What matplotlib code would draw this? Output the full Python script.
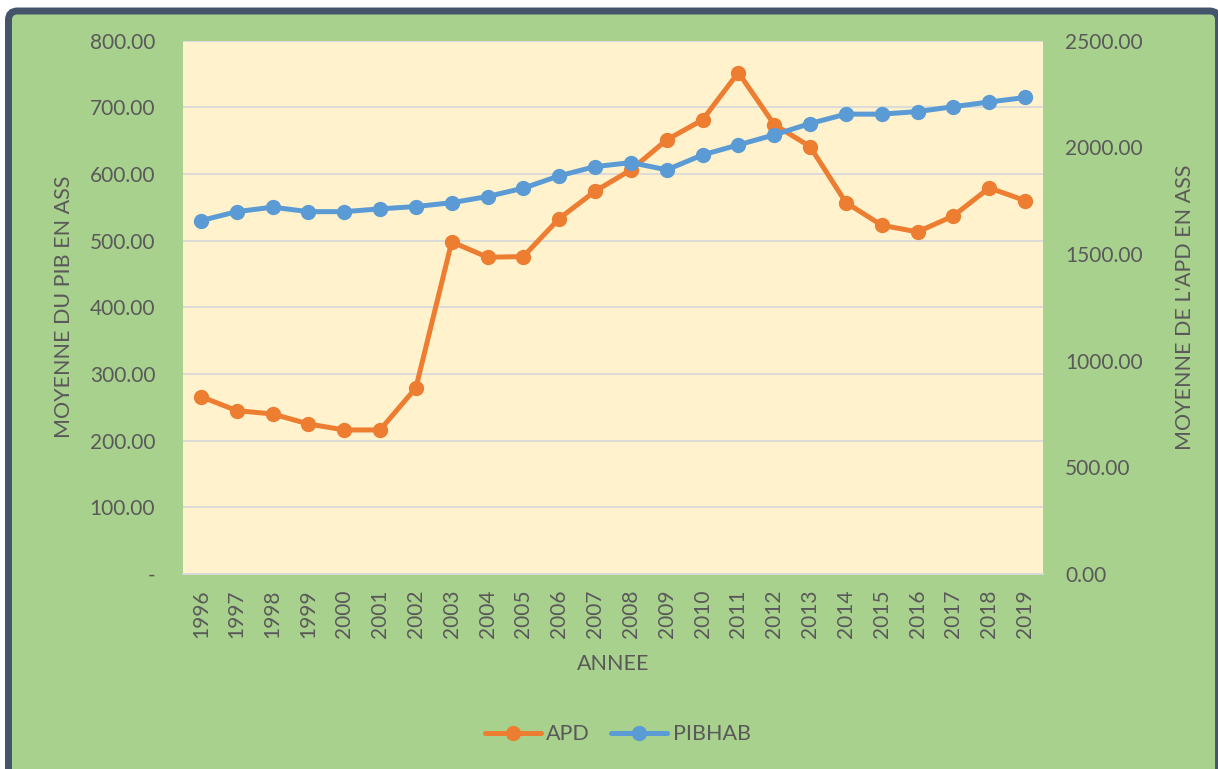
import matplotlib.pyplot as plt
from matplotlib.patches import FancyBboxPatch
from matplotlib.ticker import FuncFormatter

# Data
years = [str(y) for y in range(1996, 2020)]
apd = [266, 245, 240, 225, 216, 216, 279, 498, 475, 476, 533, 574,
       606, 651, 681, 752, 674, 641, 557, 523, 513, 537, 579, 560]
pibhab = [1656, 1698, 1719, 1698, 1698, 1711, 1722, 1740, 1769, 1808, 1866, 1909,
          1928, 1894, 1964, 2011, 2058, 2111, 2155, 2155, 2167, 2190, 2212, 2233]

ORANGE = "#ED7D31"
BLUE = "#5B9BD5"
TEXT = "#595959"
GRID = "#D9D9D9"
GREEN = "#A9D18E"
PLOT_BG = "#FFF2CC"
BORDER = "#44546A"

plt.rcParams['font.family'] = ['Lato', 'DejaVu Sans']

fig = plt.figure(figsize=(12.18, 7.69), dpi=100, facecolor="white")

# Green card with dark rounded border (coordinates in pixels)
card = FancyBboxPatch((8.5, -20), 1210, 768.5 - 10.5 + 20,
                      boxstyle="round,pad=0,rounding_size=9",
                      facecolor=GREEN, edgecolor=BORDER, linewidth=5,
                      transform=None, zorder=-5)
fig.patches.append(card)

ax = fig.add_axes([0.1502, 0.2536, 0.7061, 0.6937])
ax.set_facecolor(PLOT_BG)
x = list(range(len(years)))

l1, = ax.plot(x, apd, color=ORANGE, lw=3.6, marker="o", ms=10, label="APD",
              solid_capstyle="round", zorder=3)
ax.set_ylim(0, 800)
ax.set_yticks(range(0, 801, 100))
ax.yaxis.set_major_formatter(FuncFormatter(lambda v, p: "-" if v == 0 else f"{v:.2f}"))
ax.set_xlim(-0.5, len(years) - 0.5)
ax.set_xticks(x)
ax.set_xticklabels(years, rotation=90)
ax.grid(axis="y", color=GRID, lw=1.3)
ax.set_axisbelow(True)

ax2 = ax.twinx()
l2, = ax2.plot(x, pibhab, color=BLUE, lw=3.6, marker="o", ms=10, label="PIBHAB",
               solid_capstyle="round", zorder=3)
ax2.set_ylim(0, 2500)
ax2.set_yticks(range(0, 2501, 500))
ax2.yaxis.set_major_formatter(FuncFormatter(lambda v, p: f"{v:.2f}"))

# Hide the borders we don't need
for a in (ax, ax2):
    for s in ["top", "right", "left", "bottom"]:
        a.spines[s].set_visible(False)
ax.spines["bottom"].set_visible(True)
ax.spines["bottom"].set_color(GRID)
ax.spines["bottom"].set_linewidth(1.3)

ax.tick_params(axis="y", length=0, pad=20, labelsize=15, labelcolor=TEXT)
ax.tick_params(axis="x", length=0, pad=11, labelsize=15, labelcolor=TEXT)
ax2.tick_params(axis="y", length=0, pad=16, labelsize=15, labelcolor=TEXT)

ax.set_ylabel("MOYENNE DU PIB EN ASS", fontsize=15.5, color=TEXT, labelpad=11)
ax2.set_ylabel("MOYENNE DE L'APD EN ASS", fontsize=15.5, color=TEXT, labelpad=23)
ax.set_xlabel("ANNEE", fontsize=15.5, color=TEXT, labelpad=12)

fig.legend(handles=[l1, l2], loc="center", bbox_to_anchor=(0.507, 0.045),
           ncol=2, frameon=False, fontsize=15.5, handlelength=2.6,
           handletextpad=0.25, columnspacing=1.0, labelcolor=TEXT)

fig.savefig("out.png", dpi=100, facecolor=fig.get_facecolor())
plt.close(fig)
